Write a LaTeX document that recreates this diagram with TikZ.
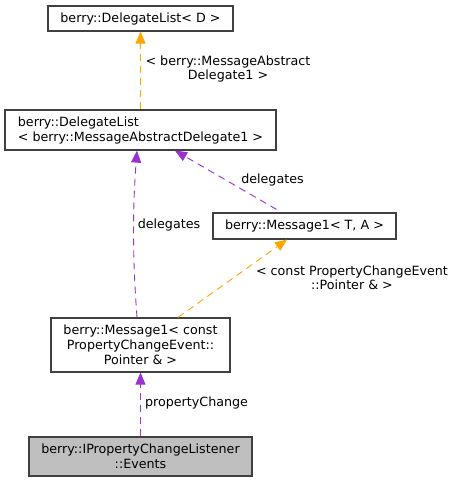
\documentclass[tikz,border=0pt]{standalone}
\usepackage{fontspec}
\setmainfont{DejaVu Sans}
\usetikzlibrary{arrows.meta,calc}
\definecolor{purp}{HTML}{9A32CD}
\definecolor{orng}{HTML}{FFA500}
\definecolor{edge}{HTML}{404040}
\definecolor{fillg}{HTML}{BFBFBF}
\tikzset{
  box/.style={draw=edge,line width=1.2pt,fill=white,inner sep=0pt,font=\fontsize{12.7}{15}\selectfont,align=center},
  purpline/.style={draw=purp,line width=0.9pt,dash pattern=on 7pt off 5pt,-{Triangle[length=12pt,width=10pt,fill=purp]}},
  orngline/.style={draw=orng,line width=0.9pt,dash pattern=on 7pt off 5pt,-{Triangle[length=12pt,width=10pt,fill=orng]}},
  lbl/.style={font=\fontsize{12.7}{14}\selectfont,align=center,inner sep=0pt}
}
\begin{document}
\begin{tikzpicture}[x=1pt,y=-1pt]
\useasboundingbox (0,0) rectangle (457,483);
\node[box,minimum width=185pt,minimum height=25pt] (A) at (140.5,18.5) {berry::DelegateList< D >};
\node[box,minimum width=271pt,minimum height=40pt,align=left] (B) at (140.5,130) {berry::DelegateList\\< berry::MessageAbstractDelegate1 >};
\node[box,minimum width=183pt,minimum height=26pt] (C) at (304.5,226) {berry::Message1< T, A >};
\node[box,minimum width=179pt,minimum height=54pt] (D) at (140.5,345) {berry::Message1< const\\PropertyChangeEvent::\\Pointer \& >};
\node[box,minimum width=223pt,minimum height=39pt,fill=fillg] (E) at (140.5,456.5) {berry::IPropertyChangeListener\\::Events};
% edges
\draw[orngline] (B.north) -- (A.south);
\draw[purpline] ($(D.north)+(-3.5,0)$) .. controls ($(D.north)+(-8,-60)$) and ($(B.south)+(-8,60)$) .. ($(B.south)+(-3.5,0)$);
\draw[purpline] ($(C.north)+(-28,-3)$) -- ($(B.south)+(34.5,0)$);
\draw[orngline] ($(D.north)+(37.5,0)$) -- ($(C.south)+(-17.5,0)$);
\draw[purpline] (E.north) -- (D.south);
% labels
\node[lbl] (l1) at (228,69) {< berry::MessageAbstract\\Delegate1 >};
\node[lbl] (l2) at (272.5,180) {delegates};
\node[lbl] (l3) at (169,225) {delegates};
\node[lbl] (l4) at (352,278) {< const PropertyChangeEvent\\::Pointer \& >};
\node[lbl] (l5) at (196.5,403) {propertyChange};
\end{tikzpicture}
\end{document}
